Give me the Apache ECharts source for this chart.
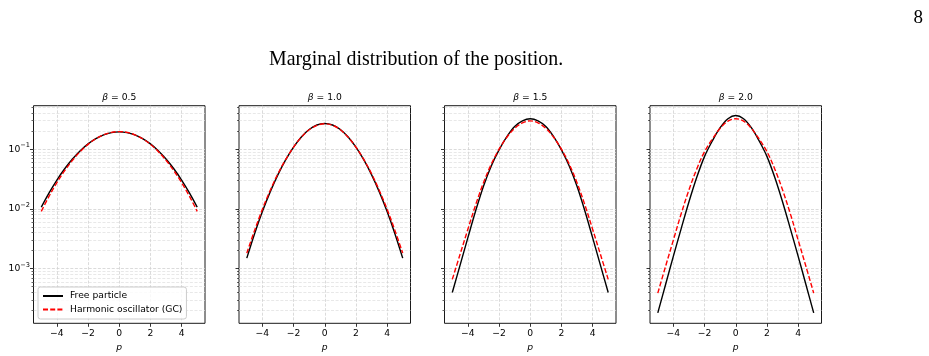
<!DOCTYPE html>
<html><head><meta charset="utf-8">
<script src="https://cdn.jsdelivr.net/npm/echarts@6/dist/echarts.min.js"></script>
<style>html,body{margin:0;padding:0;background:#fff}#c{width:929px;height:356px}</style>
</head><body><div id="c"></div>
<script>
const xValues = [-5,-4.5,-4,-3.5,-3,-2.5,-2,-1.5,-1,-0.5,0,0.5,1,1.5,2,2.5,3,3.5,4,4.5,5];
const betaLabels = ['0.5','1.0','1.5','2.0'];
const seriesNames = ['Free particle','Harmonic oscillator (GC)'];

const free_b05 = [0.01072,0.01859,0.03045,0.0471,0.0686,0.0944,0.1226,0.1502,0.1736,0.1894,0.1950,0.1894,0.1736,0.1502,0.1226,0.0944,0.0686,0.0471,0.03045,0.01859,0.01072];
const harm_b05 = [0.00912,0.01635,0.02758,0.0437,0.0652,0.0915,0.1206,0.1496,0.1744,0.1912,0.1972,0.1912,0.1744,0.1496,0.1206,0.0915,0.0652,0.0437,0.02758,0.01635,0.00912];
const free_b10 = [0.00150,0.00385,0.00902,0.0193,0.0376,0.0668,0.1084,0.1603,0.2138,0.2541,0.2692,0.2541,0.2138,0.1603,0.1084,0.0668,0.0376,0.0193,0.00902,0.00385,0.00150];
const harm_b10 = [0.00182,0.00437,0.00989,0.0204,0.0389,0.0676,0.1084,0.1585,0.2113,0.2512,0.2661,0.2512,0.2113,0.1585,0.1084,0.0676,0.0389,0.0204,0.00989,0.00437,0.00182];
const free_b15 = [0.000398,0.001148,0.00331,0.00933,0.0240,0.0525,0.0977,0.1622,0.2399,0.2985,0.3236,0.2985,0.2399,0.1622,0.0977,0.0525,0.0240,0.00933,0.00331,0.001148,0.000398];
const harm_b15 = [0.000661,0.00174,0.00457,0.01175,0.0275,0.0562,0.1000,0.1585,0.2239,0.2754,0.2985,0.2754,0.2239,0.1585,0.1000,0.0562,0.0275,0.01175,0.00457,0.00174,0.000661];
const free_b20 = [0.000182,0.000543,0.00162,0.00468,0.01318,0.0339,0.0759,0.1380,0.2291,0.3236,0.3673,0.3236,0.2291,0.1380,0.0759,0.0339,0.01318,0.00468,0.00162,0.000543,0.000182];
const harm_b20 = [0.000389,0.001096,0.00302,0.00832,0.0209,0.0468,0.0912,0.1479,0.2239,0.2951,0.3236,0.2951,0.2239,0.1479,0.0912,0.0468,0.0209,0.00832,0.00302,0.001096,0.000389];

const xTicks = [-4,-2,0,2,4];
const yMajorTicks = [1e-3,1e-2,1e-1];
const yMinorTicks = [2e-4,3e-4,4e-4,5e-4,6e-4,7e-4,8e-4,9e-4,
  2e-3,3e-3,4e-3,5e-3,6e-3,7e-3,8e-3,9e-3,
  2e-2,3e-2,4e-2,5e-2,6e-2,7e-2,8e-2,9e-2,
  0.2,0.3,0.4,0.5];

const freeSets = [free_b05, free_b10, free_b15, free_b20];
const harmSets = [harm_b05, harm_b10, harm_b15, harm_b20];

const Y_MIN = 1.216e-4, Y_MAX = 0.535;
const X_MIN = -5.5, X_MAX = 5.5;
const gridLefts = [33.5, 239, 444.5, 650];
const GW = 171.5, GT = 105.7, GH = 217.6;
const FONT = 'DejaVu Sans';
const FS = 9.2;

const majorGrid = {show:true, lineStyle:{color:'#d2d2d2', width:0.8, type:[3,1.6]}};
const minorGrid = {show:true, lineStyle:{color:'#dedede', width:0.7, type:[3,1.6]}};

const grids = [], xAxes = [], yAxes = [], series = [], titles = [];
titles.push({text:'Marginal distribution of the position.', left:269, top:50, padding:0,
  textStyle:{fontFamily:'Liberation Serif', fontSize:19.9, fontWeight:'normal', color:'#000'}});
titles.push({text:'8', right:6, top:9, padding:0,
  textStyle:{fontFamily:'Liberation Serif', fontSize:19, fontWeight:'normal', color:'#000'}});

for (let i = 0; i < 4; i++) {
  grids.push({left:gridLefts[i], top:GT, width:GW, height:GH, show:true, borderColor:'#1a1a1a', borderWidth:1,
    backgroundColor:'transparent', containLabel:false, outerBoundsMode:'none'});
  xAxes.push({type:'value', gridIndex:i, min:X_MIN, max:X_MAX, position:'bottom',
    axisLine:{show:false, onZero:false},
    axisTick:{show:true, customValues:xTicks, length:3.5, lineStyle:{color:'#000', width:0.8}},
    axisLabel:{customValues:xTicks, formatter:v => v < 0 ? '\u2212' + (-v) : String(v),
      fontSize:FS, fontFamily:FONT, color:'#000', margin:5.5},
    splitLine:majorGrid,
    name:'p', nameLocation:'middle', nameGap:17,
    nameTextStyle:{fontStyle:'italic', fontFamily:FONT, fontSize:FS, color:'#000'}});
  yAxes.push({type:'log', gridIndex:i, min:Y_MIN, max:Y_MAX, logBase:10, position:'left',
    axisLine:{show:false, onZero:false},
    axisTick:{show:true, customValues:yMajorTicks, length:3.5, lineStyle:{color:'#000', width:0.8}},
    axisLabel:{show:i === 0, customValues:yMajorTicks, margin:3.5,
      formatter:v => '{b|10}{s|\u2212' + (-Math.round(Math.log10(v))) + '}',
      rich:{b:{fontSize:FS, fontFamily:FONT, color:'#000'},
            s:{fontSize:6.6, fontFamily:FONT, color:'#000', padding:[0,0,7,0]}}},
    splitLine:majorGrid});
  yAxes.push({type:'log', gridIndex:i, min:Y_MIN, max:Y_MAX, logBase:10, position:'left', offset:0,
    axisLine:{show:false, onZero:false},
    axisTick:{show:true, customValues:yMinorTicks, length:2, lineStyle:{color:'#000', width:0.6}},
    axisLabel:{show:false},
    splitLine:minorGrid});
  series.push({name:seriesNames[0], type:'line', xAxisIndex:i, yAxisIndex:2*i,
    data:xValues.map((x, j) => [x, freeSets[i][j]]), showSymbol:false, symbol:'none', smooth:0.35,
    lineStyle:{color:'#000', width:1.4}, itemStyle:{color:'#000'}, z:3});
  series.push({name:seriesNames[1], type:'line', xAxisIndex:i, yAxisIndex:2*i,
    data:xValues.map((x, j) => [x, harmSets[i][j]]), showSymbol:false, symbol:'none', smooth:0.35,
    lineStyle:{color:'#ff0000', width:1.4, type:[5,2.2]}, itemStyle:{color:'#ff0000'}, z:4});
  titles.push({text:'{i|\u03b2}{n| = ' + betaLabels[i] + '}', left:gridLefts[i] + GW / 2, top:93, textAlign:'center', padding:0,
    textStyle:{fontWeight:'normal', fontSize:FS, fontFamily:FONT,
      rich:{i:{fontStyle:'italic', fontWeight:'normal', fontFamily:FONT, fontSize:FS, color:'#000'},
            n:{fontWeight:'normal', fontFamily:FONT, fontSize:FS, color:'#000'}}}});
}

const chart = echarts.init(document.getElementById('c'), null, {renderer:'canvas'});
chart.setOption({
  animation:false,
  backgroundColor:'#fff',
  title:titles,
  grid:grids,
  xAxis:xAxes,
  yAxis:yAxes,
  legend:{show:true, data:seriesNames, orient:'vertical', left:38, top:287, padding:[4.5,4,5,4], itemGap:4.5,
    itemWidth:20, itemHeight:10, backgroundColor:'rgba(255,255,255,0.8)', borderColor:'#cccccc', borderWidth:1,
    borderRadius:2.5, itemStyle:{opacity:0},
    textStyle:{fontSize:FS, fontFamily:FONT, color:'#000', padding:[0,0,0,2]}},
  series:series
});
</script></body></html>
